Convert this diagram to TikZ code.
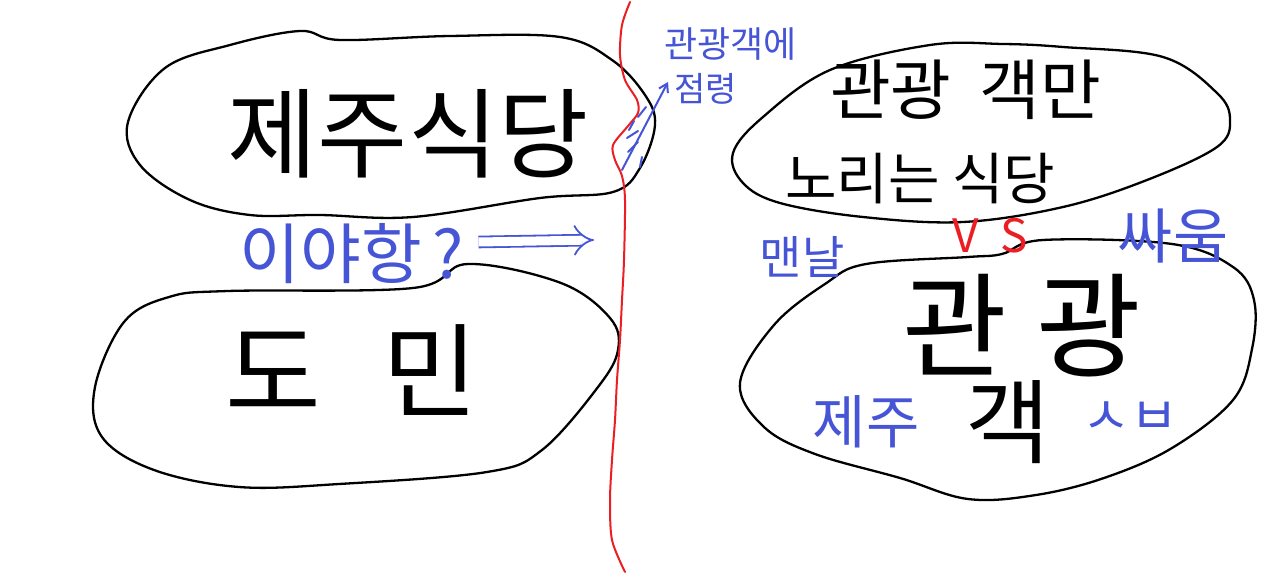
\documentclass[tikz,border=0pt]{standalone}
\usepackage{fontspec}
\newfontfamily\kr{Noto Sans CJK KR}
\usetikzlibrary{arrows.meta}
\definecolor{blueink}{RGB}{70,84,214}
\definecolor{redink}{RGB}{235,30,35}
\tikzset{
  blob/.style={draw=black, line width=2.3pt, line join=round, line cap=round},
  ink/.style={line width=2pt, line cap=round, line join=round},
  txt/.style={inner sep=0pt, font=\kr},
}
\newcommand{\fs}[1]{\fontsize{#1}{#1}\selectfont}
\begin{document}
\begin{tikzpicture}[x=1pt,y=-1pt]
\useasboundingbox (0,0) rectangle (1280,580);
\fill[white] (0,0) rectangle (1280,580);
% blobs
\draw[blob] plot[smooth cycle, tension=0.6] coordinates {(128,122) (165,68) (230,45) (300,31) (340,40) (450,36) (560,37) (612,60) (645,95) (655,125) (640,168) (613,192) (540,198) (413,217) (320,215) (250,215) (190,200) (140,165)};
\draw[blob] plot[smooth cycle, tension=0.6] coordinates {(124,322) (169,297) (228,291) (413,288) (468,264) (561,283) (610,318) (618,350) (598,387) (542,450) (487,472) (339,484) (239,487) (154,470) (102,437) (95,387)};
\draw[blob] plot[smooth cycle, tension=0.6] coordinates {(733,153) (763,117) (830,70) (930,45) (1003,44) (1063,47) (1163,57) (1217,93) (1230,120) (1217,147) (1147,180) (1063,207) (963,222) (863,217) (780,203) (743,183)};
\draw[blob] plot[smooth cycle, tension=0.6] coordinates {(774,325) (825,284) (866,264) (968,257) (1002,254) (1043,240) (1172,244) (1233,267) (1254,300) (1252,349) (1233,400) (1172,448) (1104,478) (1036,495) (968,499) (900,478) (815,454) (764,427) (740,383)};
% red divider
\draw[redink, ink] plot[smooth, tension=0.5] coordinates {(630,2) (622,25) (620,55) (625,80) (637,100) (638,113) (628,126) (613,145) (615,160) (622,176) (625,200) (624,260) (622,300) (620,340) (617,380) (615,420) (612,460) (610,500) (612,540) (625,572)};
% left side texts
\node[txt] (jeju) at (408,134) {\fs{98}제주식당};
\node[txt] (domin) at (352,370) {\fs{104}도\hspace{62pt}민};
\node[txt, text=blueink] (iya) at (352,254) {\fs{66}이야항\,?};
\coordinate (iyaend) at (594,240);
\draw[blueink, line width=1.8pt, double, double distance=9pt, -{Implies}] (iya.east) ++(14,-12) -- (iyaend);
% occupation note
\node[txt, text=blueink, anchor=north west, align=left] (occ) at (664,28) {\fs{36}관광객에\\[12pt]\fs{34}\hspace{10pt}점령};
\coordinate (hs) at (622,170);
\coordinate (occtip) at (668,82);
\draw[blueink, ink, -{Straight Barb[length=8pt,width=10pt]}] (hs) -- (occtip);
\foreach \a/\b in {{(629,130)/(634,121)},{(627,138)/(638,131)},{(628,152)/(638,142)},{(640,167)/(642,157)},{(638,117)/(646,107)}}
  \draw[blueink, ink] \a -- \b;
% right side texts
\node[txt, anchor=north west, align=left] (tr) at (785,60) {\fs{66}\hspace{45pt}관광\hspace{28pt}객만\\[32pt]\fs{56}노리는 식당};
\node[txt, text=redink] (vs) at (990,236) {\fs{46}V\hspace{22pt}S};
\node[txt, text=blueink] (maen) at (802,257) {\fs{46}맨날};
\node[txt, text=blueink] (ssa) at (1173,236) {\fs{60}싸움};
\node[txt] (gg) at (1022,326) {\fs{114}관\hspace{30pt}광};
\node[txt] (gaek) at (1008,422) {\fs{92}객};
\node[txt, text=blueink] (jj) at (866,422) {\fs{58}제주};
\node[txt, text=blueink] (sb) at (1130,418) {\fs{52}ㅅㅂ};
\end{tikzpicture}
\end{document}
